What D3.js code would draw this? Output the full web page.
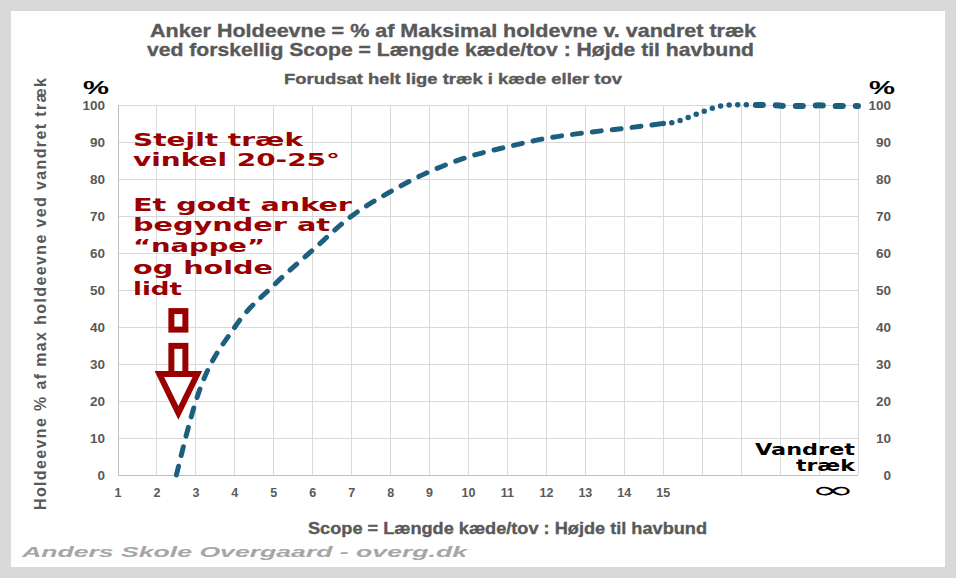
<!DOCTYPE html>
<html><head><meta charset="utf-8">
<script src="https://cdn.jsdelivr.net/npm/d3@7/dist/d3.min.js"></script>
<style>body{margin:0;background:#d9d9d9}svg{display:block}</style>
</head><body>
<svg id="c" width="956" height="578"></svg>
<script>
// ---------- data ----------
const titleLines = [
  "Anker Holdeevne = % af Maksimal holdevne v. vandret træk",
  "ved forskellig Scope = Længde kæde/tov : Højde til havbund",
  "Forudsat helt lige træk i kæde eller tov"
];
const xAxisTitle = "Scope = Længde kæde/tov : Højde til havbund";
const yAxisTitle = "Holdeevne % af max  holdeevne ved vandret træk";
const footer = "Anders Skole Overgaard - overg.dk";
const xTickLabels = [1,2,3,4,5,6,7,8,9,10,11,12,13,14,15];
const xGridValues = [1,2,3,4,5,6,7,8,9,10,11,12,13,14,15,16,17,18,19,20];
const yTicks = [0,10,20,30,40,50,60,70,80,90,100];
// steep -> normal scope (dashed)
const scopeMain = [2.5, 3, 4, 5, 6, 7, 8, 9, 10, 11, 12, 13, 14, 15];
const holdMain  = [0, 20, 40, 51.3, 60.8, 70, 76.6, 82, 86, 88.7, 91, 92.5, 93.7, 95];
// transition towards horizontal pull (round dots)
const scopeTransition = [15, 15.3, 15.53, 15.75, 16, 16.22, 16.5, 16.7, 16.9, 17.1, 17.3];
const holdTransition  = [95, 95.4, 96.2, 97.1, 98.1, 99.0, 99.8, 100, 100.1, 100.1, 100];
// horizontal pull / infinite scope (long dashes)
const scopeHorizontal = [17.3, 17.75, 18.2, 18.6, 19.0, 19.5, 20];
const holdHorizontal  = [100, 100, 99.7, 99.7, 99.9, 99.7, 99.7];
const annotationLines = ["Stejlt træk", "vinkel 20-25°", "", "Et godt anker", "begynder at", "“nappe”", "og holde", "lidt"];
const annotationWidths = [170, 207, 0, 219, 197, 132, 140, 49];
const arrowScope = 2.55;
const horizontalLabel = ["Vandret", "træk", "∞"];

// ---------- layout ----------
const svg = d3.select("#c");
const W = 956, H = 578;
const plot = {left:118, right:858, top:105, bottom:475};
const x = d3.scaleLinear().domain([1,20]).range([plot.left, plot.right]);
const y = d3.scaleLinear().domain([0,100]).range([plot.bottom, plot.top]);
const grey = "#595959";
const sans = "'Liberation Sans', Arial, sans-serif";
const narrow = "'Liberation Sans Narrow', 'Arial Narrow', 'Liberation Sans', sans-serif";
const wide = "'DejaVu Sans', 'Liberation Sans', sans-serif";
const red = "#990000";
const lineCol = "#1c5f7f";

// frame
svg.append("rect").attr("width",W).attr("height",H).attr("fill","#d9d9d9");
svg.append("rect").attr("x",11).attr("y",11).attr("width",934).attr("height",556).attr("fill","#fff");

// gridlines
const g = svg.append("g");
g.selectAll(".vg").data(xGridValues).join("line")
  .attr("x1",d=>x(d)).attr("x2",d=>x(d)).attr("y1",y(0)).attr("y2",y(100))
  .attr("stroke","#d9d9d9").attr("stroke-width",1).attr("shape-rendering","crispEdges");
g.selectAll(".hg").data(yTicks).join("line")
  .attr("x1",x(1)).attr("x2",x(20)).attr("y1",d=>y(d)).attr("y2",d=>y(d))
  .attr("stroke","#d9d9d9").attr("stroke-width",1).attr("shape-rendering","crispEdges");
// axis lines
g.append("line").attr("x1",x(1)).attr("x2",x(1)).attr("y1",y(0)).attr("y2",y(100))
  .attr("stroke","#bfbfbf").attr("shape-rendering","crispEdges");
g.append("line").attr("x1",x(1)).attr("x2",x(20)).attr("y1",y(0)).attr("y2",y(0))
  .attr("stroke","#bfbfbf").attr("shape-rendering","crispEdges");

// axis labels
const ax = svg.append("g").attr("font-family",sans).attr("font-weight","bold").attr("fill",grey);
ax.selectAll(".yl").data(yTicks).join("text")
  .attr("x",105).attr("y",d=>y(d)).attr("dy","0.36em").attr("text-anchor","end")
  .attr("font-size",13.5).text(d=>d);
ax.selectAll(".yr").data(yTicks).join("text")
  .attr("x",891).attr("y",d=>y(d)).attr("dy","0.36em").attr("text-anchor","end")
  .attr("font-size",13.5).text(d=>d);
ax.selectAll(".xl").data(xTickLabels).join("text")
  .attr("x",d=>x(d)).attr("y",496.5).attr("text-anchor","middle")
  .attr("font-size",12.5).text(d=>d);

// % signs
[[96,94],[882,94]].forEach(p=>{
  svg.append("text").attr("x",p[0]).attr("y",p[1]).attr("text-anchor","middle")
    .attr("font-family",sans).attr("font-weight","bold").attr("font-size",18)
    .attr("textLength",26).attr("lengthAdjust","spacingAndGlyphs").attr("fill","#000").text("%");
});

// titles
const tt = svg.append("g").attr("font-family",narrow).attr("font-weight","bold").attr("fill",grey)
  .attr("stroke",grey).attr("stroke-width",0.35);
tt.append("text").attr("x",150).attr("y",36.5).attr("font-size",19)
  .attr("textLength",606).attr("lengthAdjust","spacingAndGlyphs").text(titleLines[0]);
tt.append("text").attr("x",147).attr("y",55.5).attr("font-size",19)
  .attr("textLength",607).attr("lengthAdjust","spacingAndGlyphs").text(titleLines[1]);
tt.append("text").attr("x",284).attr("y",84).attr("font-size",15)
  .attr("textLength",338).attr("lengthAdjust","spacingAndGlyphs").text(titleLines[2]);
tt.append("text").attr("x",308).attr("y",533.5).attr("font-size",17)
  .attr("textLength",399).attr("lengthAdjust","spacingAndGlyphs").text(xAxisTitle);
svg.append("text").attr("transform","translate(46,510) rotate(-90)").attr("x",0).attr("y",0)
  .attr("font-family",sans).attr("font-weight","bold").attr("fill",grey)
  .attr("font-size",16).attr("textLength",432).attr("lengthAdjust","spacing").text(yAxisTitle);

// footer
svg.append("text").attr("x",22).attr("y",557).attr("font-family",sans).attr("font-weight","bold")
  .attr("font-style","italic").attr("font-size",15).attr("fill","#a6a6a6")
  .attr("textLength",445).attr("lengthAdjust","spacingAndGlyphs").text(footer);

// curves
const line = d3.line().x(d=>x(d[0])).y(d=>y(d[1])).curve(d3.curveMonotoneX);
const zip = (a,b)=>a.map((v,i)=>[v,b[i]]);
svg.append("path").attr("d",line(zip(scopeMain,holdMain))).attr("fill","none")
  .attr("stroke",lineCol).attr("stroke-width",5).attr("stroke-linecap","round")
  .attr("stroke-dasharray","9,11");
svg.append("path").attr("d",line(zip(scopeTransition,holdTransition))).attr("fill","none")
  .attr("stroke",lineCol).attr("stroke-width",5.5).attr("stroke-linecap","round")
  .attr("stroke-dasharray","0,8.6").attr("stroke-dashoffset",-8.6);
svg.append("path").attr("d",line(zip(scopeHorizontal,holdHorizontal))).attr("fill","none")
  .attr("stroke",lineCol).attr("stroke-width",6).attr("stroke-linecap","round")
  .attr("stroke-dasharray","7,13").attr("stroke-dashoffset",-3);

// annotation text
const an = svg.append("g").attr("font-family",wide).attr("font-weight","bold").attr("fill",red).attr("font-size",17.5);
const baselines = [146, 165.5, 0, 210.5, 231, 252, 273.5, 294.5];
annotationLines.forEach((t,i)=>{
  if(!t) return;
  an.append("text").attr("x",133).attr("y",baselines[i])
    .attr("textLength",annotationWidths[i]).attr("lengthAdjust","spacingAndGlyphs").text(t);
});

// arrow (anchored at scope 2.55)
const ac = x(arrowScope);
const ar = svg.append("g").attr("fill","#fff").attr("stroke",red).attr("stroke-width",6).attr("stroke-linejoin","miter");
ar.append("rect").attr("x",ac-7).attr("y",y(44.3)).attr("width",14).attr("height",y(39.3)-y(44.3));
ar.append("rect").attr("x",ac-7).attr("y",y(34.9)).attr("width",14).attr("height",y(27.3)-y(34.9));
ar.append("path").attr("d",`M${ac-19},${y(27.3)}L${ac+19},${y(27.3)}L${ac},${y(16.8)}Z`);

// horizontal pull label
const hl = svg.append("g").attr("font-family",wide).attr("font-weight","bold").attr("fill","#000");
hl.append("text").attr("x",755).attr("y",455).attr("font-size",15.5)
  .attr("textLength",100).attr("lengthAdjust","spacingAndGlyphs").text(horizontalLabel[0]);
hl.append("text").attr("x",796).attr("y",471).attr("font-size",15.5)
  .attr("textLength",59).attr("lengthAdjust","spacingAndGlyphs").text(horizontalLabel[1]);
hl.append("text").attr("x",810).attr("y",497.5).attr("font-size",23).attr("font-weight","normal")
  .attr("textLength",45).attr("lengthAdjust","spacingAndGlyphs").text(horizontalLabel[2]);
</script>
</body></html>
